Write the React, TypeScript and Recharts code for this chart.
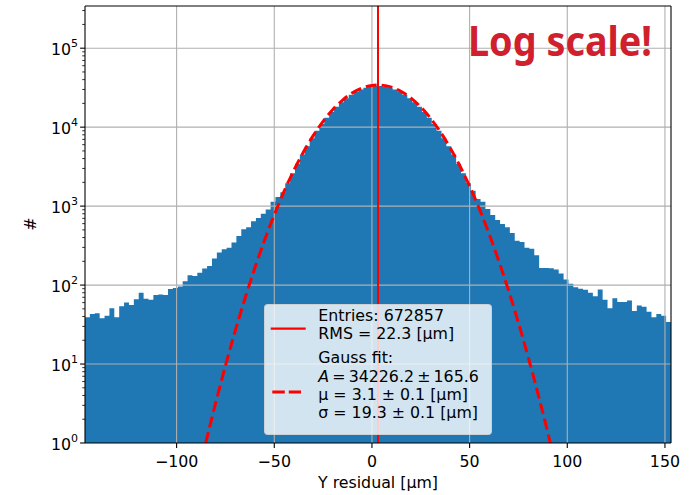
import React from "react";
import {
  ComposedChart,
  Area,
  Line,
  XAxis,
  YAxis,
  ReferenceLine,
} from "recharts";

// Histogram of Y residuals: 120 bins of 2.5 µm starting at mu - 150
const BIN_START = -146.9;
const BIN_WIDTH = 2.5;
const COUNTS = [
  39, 43, 44, 38, 41, 51, 39, 54, 60, 56,
  66, 80, 67, 65, 75, 76, 75, 89, 92, 96,
  112, 133, 130, 143, 162, 175, 217, 258, 284, 296,
  345, 419, 508, 538, 641, 708, 802, 908, 1137, 1303,
  1500, 1950, 2600, 3450, 4500, 5750, 7250, 9000, 10950, 13200,
  15600, 18100, 20700, 23300, 25800, 28000, 30000, 31500, 32600, 33100,
  33200, 32600, 31500, 30000, 28000, 25800, 23300, 20700, 18100, 15600,
  13200, 10950, 9000, 7250, 5750, 4500, 3450, 2600, 1958, 1564,
  1230, 1137, 919, 772, 667, 594, 538, 457, 365, 351,
  297, 288, 239, 165, 164, 163, 158, 140, 118, 104,
  94, 90, 87, 80, 72, 88, 65, 51, 68, 61,
  61, 64, 47, 55, 53, 46, 39, 43, 41, 34,
];

// Gauss fit curve
const GAUSS_X = [
  -85.1, -80, -75, -70, -65, -60, -55, -50, -45, -40, -35, -30, -25, -20,
  -15, -10, -5, 0, 3.1, 5, 10, 15, 20, 25, 30, 35, 40, 45, 50, 55, 60, 65,
  70, 75, 80, 85, 90, 91.3,
];
const GAUSS_Y = [
  1, 3.23, 9.52, 26.3, 67.7, 163, 369, 777, 1533, 2829, 4878, 7864, 11864,
  16728, 22050, 27190, 31340, 33790, 34226, 34060, 32110, 28300, 23330, 17980,
  12960, 8735, 5503, 3243, 1787, 921, 444, 200, 84.2, 33.2, 12.2, 4.21, 1.36, 1,
];

const MU = 3.1;
const X_DOMAIN = [-146.9, 153.1];
const Y_DOMAIN = [1, 342260];
const X_TICKS = [-100, -50, 0, 50, 100, 150];
const Y_MAJOR = [1, 10, 100, 1000, 10000, 100000];
const MINOR_MULTS = [2, 3, 4, 5, 6, 7, 8, 9];
const Y_MINOR = Y_MAJOR.flatMap((d) => MINOR_MULTS.map((m) => m * d)).filter(
  (v) => v < Y_DOMAIN[1]
);

const histData = COUNTS.map((n, i) => ({
  x: +(BIN_START + i * BIN_WIDTH).toFixed(2),
  n,
}));
histData.push({
  x: +(BIN_START + COUNTS.length * BIN_WIDTH).toFixed(2),
  n: COUNTS[COUNTS.length - 1],
});
const gaussData = GAUSS_X.map((x, i) => ({ x, g: GAUSS_Y[i] }));

const FONT = "DejaVu Sans";
const FS = 15.8;
const TICK_SIZE = 5;
const TICK_MARGIN = 3;
const GRID = "#b0b0b0";
const THIN = "\u2009";

const YTick = (props: any) => {
  const { x, y, payload } = props;
  const lg = Math.log10(payload.value);
  const e = Math.round(lg);
  const major = Math.abs(lg - e) < 1e-6;
  const ax = x + TICK_SIZE + TICK_MARGIN;
  return (
    <g>
      <line
        x1={ax - (major ? 4.9 : 2.8)}
        x2={ax}
        y1={y}
        y2={y}
        stroke="#000"
        strokeWidth={major ? 1.1 : 0.8}
      />
      {major && (
        <text
          x={ax - 7}
          y={y + 7}
          textAnchor="end"
          fontFamily={FONT}
          fontSize={FS}
          fill="#000"
        >
          <tspan>10</tspan>
          <tspan dy={-8} fontSize={11}>
            {e}
          </tspan>
        </text>
      )}
    </g>
  );
};

export default function App() {
  return (
    <div
      style={{
        position: "absolute",
        left: 0,
        top: 0,
        width: 693,
        height: 495,
        background: "#fff",
      }}
    >
      <ComposedChart
        width={693}
        height={495}
        data={histData}
        margin={{ top: 6, right: 22, bottom: 0, left: 25 }}
      >
        <XAxis
          dataKey="x"
          type="number"
          domain={X_DOMAIN}
          allowDataOverflow
          ticks={X_TICKS}
          interval={0}
          height={52}
          tickSize={4.9}
          tickMargin={8}
          tickFormatter={(v) => String(v).replace("-", "\u2212")}
          tick={{ fill: "#000", fontSize: FS, fontFamily: FONT }}
          tickLine={{ stroke: "#000", strokeWidth: 1.1 }}
          axisLine={{ stroke: "#000", strokeWidth: 1.1 }}
          label={{
            value: "Y residual [µm]",
            position: "insideBottom",
            offset: 7,
            fill: "#000",
            fontSize: FS,
            fontFamily: FONT,
          }}
        />
        <YAxis
          type="number"
          scale="log"
          domain={Y_DOMAIN}
          allowDataOverflow
          ticks={[...Y_MAJOR, ...Y_MINOR]}
          interval={0}
          width={60}
          tickSize={TICK_SIZE}
          tickMargin={TICK_MARGIN}
          tickLine={false}
          tick={<YTick />}
          axisLine={{ stroke: "#000", strokeWidth: 1.1 }}
        />
        <Area
          type="stepAfter"
          dataKey="n"
          stroke="none"
          fill="#1f77b4"
          fillOpacity={1}
          isAnimationActive={false}
        />
        {X_TICKS.map((t) => (
          <ReferenceLine key={`gx${t}`} x={t} stroke={GRID} strokeWidth={1.1} />
        ))}
        {Y_MAJOR.slice(1).map((t) => (
          <ReferenceLine key={`gy${t}`} y={t} stroke={GRID} strokeWidth={1.1} />
        ))}
        <ReferenceLine x={MU} stroke="#ff0000" strokeWidth={2} />
        <Line
          data={gaussData}
          dataKey="g"
          type="monotone"
          stroke="#ff0000"
          strokeWidth={3}
          strokeDasharray="11 5"
          dot={false}
          isAnimationActive={false}
        />
        <ReferenceLine x={X_DOMAIN[1]} stroke="#000" strokeWidth={1.1} />
        <ReferenceLine y={Y_DOMAIN[1]} stroke="#000" strokeWidth={1.1} />
      </ComposedChart>

      <svg
        width={693}
        height={495}
        style={{ position: "absolute", left: 0, top: 0, pointerEvents: "none" }}
      >
        <text
          x={36}
          y={224}
          transform="rotate(-90 36 224)"
          textAnchor="middle"
          fontFamily={FONT}
          fontSize={FS}
          fill="#000"
        >
          #
        </text>
        <text
          x={468}
          y={56}
          fontFamily="Noto Sans"
          fontWeight={700}
          fontSize={42}
          fill="#d0202e"
          textLength={184}
          lengthAdjust="spacingAndGlyphs"
        >
          Log scale!
        </text>
      </svg>

      <div
        style={{
          position: "absolute",
          left: 264,
          top: 304,
          width: 228,
          height: 131,
          boxSizing: "border-box",
          background: "rgba(255,255,255,0.8)",
          border: "1px solid rgba(204,204,204,0.8)",
          borderRadius: 4,
        }}
      >
        <svg width={228} height={131} style={{ position: "absolute", left: -1, top: -1 }}>
          <line x1={6.7} x2={41.7} y1={24.7} y2={24.7} stroke="#ff0000" strokeWidth={2.2} />
          <line
            x1={8.3}
            x2={37}
            y1={88}
            y2={88}
            stroke="#ff0000"
            strokeWidth={3}
            strokeDasharray="12.5 4"
          />
          <g fontFamily={FONT} fontSize={FS} fill="#000">
            <text x={54.3} y={17}>Entries: 672857</text>
            <text x={54.3} y={35.3}>RMS = 22.3 [µm]</text>
            <text x={54.3} y={59.3}>Gauss fit:</text>
            <text x={54.3} y={77.7}>
              <tspan fontStyle="italic">A</tspan>
              {`${THIN}=${THIN}34226.2${THIN}±${THIN}165.6`}
            </text>
            <text x={54.3} y={95.5}>μ = 3.1 ± 0.1 [µm]</text>
            <text x={54.3} y={113.7}>σ = 19.3 ± 0.1 [µm]</text>
          </g>
        </svg>
      </div>
    </div>
  );
}
